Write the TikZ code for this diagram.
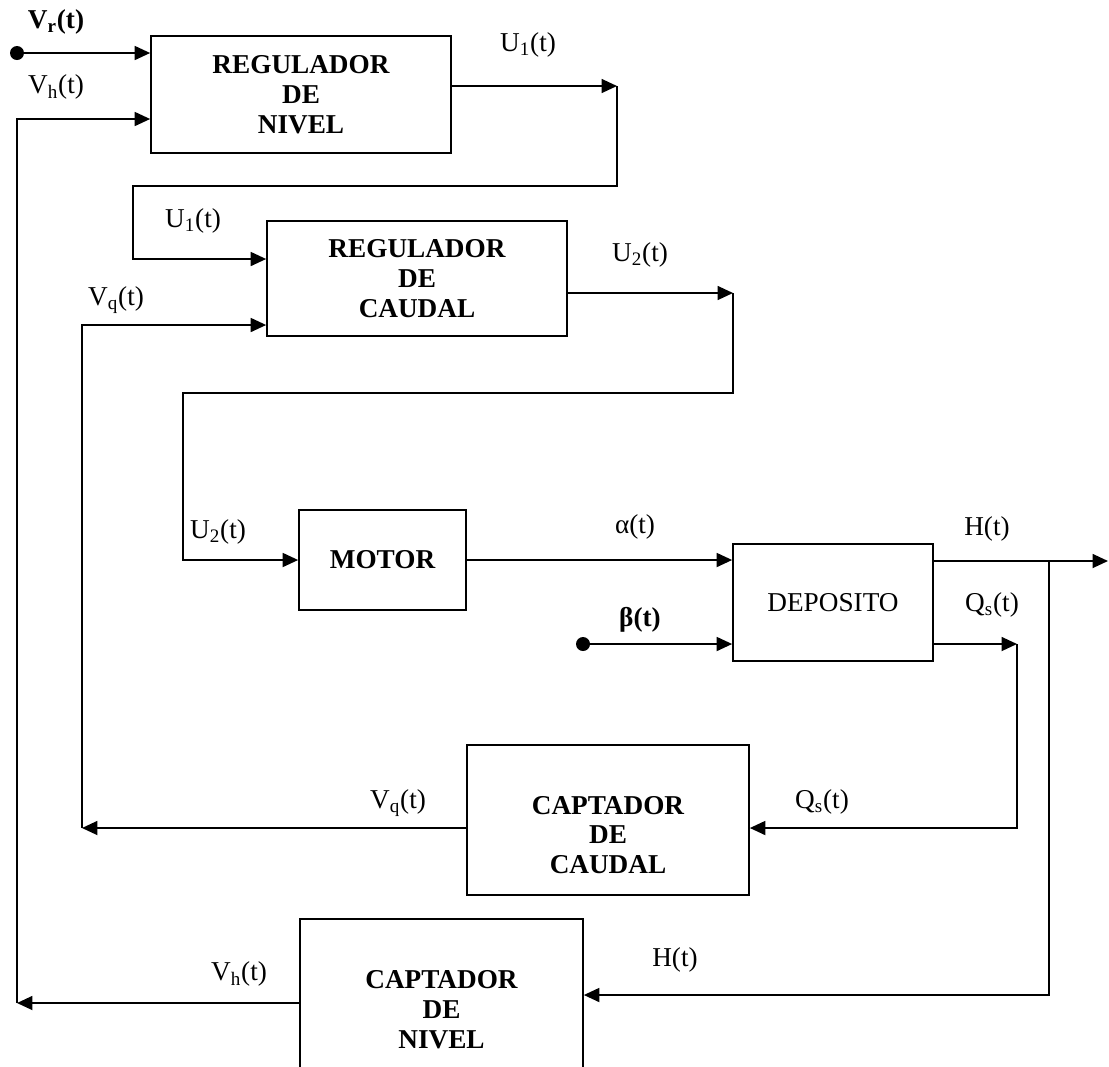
\documentclass[tikz,border=0pt]{standalone}
\usepackage{fontspec}
\setmainfont{Liberation Serif}
\usetikzlibrary{arrows.meta,positioning,calc}

\begin{document}
\begin{tikzpicture}[
  x=0.02cm, y=-0.02cm,
  font=\fontsize{15.5}{17}\selectfont,
  blk/.style={draw, line width=1pt, align=center, inner sep=0pt},
  bold/.style={font=\fontsize{15.5}{17}\selectfont\bfseries, align=center},
  arrow/.style={-{Triangle[length=3.1mm,width=2.8mm]}, line width=1pt},
  dot/.style={circle, fill, inner sep=0pt, minimum size=2.8mm},
  sig/.style={inner sep=0pt}
]
\useasboundingbox (0,0) rectangle (1109,1066);

% bloques
\node[blk, bold, minimum width=6cm, minimum height=2.34cm] (regn) at (301,94.5) {REGULADOR\\DE\\NIVEL};
\node[blk, bold, minimum width=6cm, minimum height=2.3cm] (regc) at (417,278.5) {REGULADOR\\DE\\CAUDAL};
\node[blk, bold, minimum width=3.34cm, minimum height=2cm] (motor) at (382.5,560) {MOTOR};
\node[blk, minimum width=4cm, minimum height=2.34cm] (depo) at (833,602.5) {DEPOSITO};
\node[blk, minimum width=5.64cm, minimum height=3cm] (capc) at (608,820) {};
\node[bold] (capct) at (608,835) {CAPTADOR\\DE\\CAUDAL};
\node[blk, bold, minimum width=5.66cm, minimum height=3.64cm] (capn) at (441.5,1010) {CAPTADOR\\DE\\NIVEL};

% etiquetas
\node[sig, bold] (lvr) at (56,22) {V\textsubscript{r}(t)};
\node[sig] (lvh) at (56,87) {V\textsubscript{h}(t)};
\node[sig] (lu1a) at (528,45) {U\textsubscript{1}(t)};
\node[sig] (lu1b) at (193,221) {U\textsubscript{1}(t)};
\node[sig] (lvqa) at (116,300) {V\textsubscript{q}(t)};
\node[sig] (lu2a) at (640,255) {U\textsubscript{2}(t)};
\node[sig] (lu2b) at (218,532) {U\textsubscript{2}(t)};
\node[sig] (lal) at (635,527) {α(t)};
\node[sig, bold] (lbe) at (640,620) {β(t)};
\node[sig] (lha) at (987,529) {H(t)};
\node[sig] (lqsa) at (992,605) {Q\textsubscript{s}(t)};
\node[sig] (lqsb) at (822,802) {Q\textsubscript{s}(t)};
\node[sig] (lvqb) at (398,803) {V\textsubscript{q}(t)};
\node[sig] (lhb) at (675,960) {H(t)};
\node[sig] (lvhb) at (239,974) {V\textsubscript{h}(t)};

% puntos de paso
\node[dot] (vrdot) at (17,53) {};
\node[dot] (bedot) at (583,644) {};
\coordinate (vhtop) at (17,119);
\coordinate (vhbot) at (17,1003);
\coordinate (u1a) at (617,86);
\coordinate (u1b) at (617,186);
\coordinate (u1c) at (133,186);
\coordinate (u1d) at (133,259);
\coordinate (vqtop) at (82,325);
\coordinate (vqbot) at (82,828);
\coordinate (u2a) at (733,293);
\coordinate (u2b) at (733,393);
\coordinate (u2c) at (183,393);
\coordinate (u2d) at (183,560);
\coordinate (hout) at (1108,561);
\coordinate (hbr) at (1049,561);
\coordinate (hbot) at (1049,995);
\coordinate (qsa) at (1017,644);
\coordinate (qsb) at (1017,828);

% conexiones
\draw[arrow] (vrdot) -- (vrdot -| regn.west);
\draw[arrow] (regn.east |- u1a) -- (u1a);
\draw[arrow] (u1a) -- (u1b) -- (u1c) -- (u1d) -- (u1d -| regc.west);
\draw[arrow] (regc.east |- u2a) -- (u2a);
\draw[arrow] (u2a) -- (u2b) -- (u2c) -- (u2d) -- (u2d -| motor.west);
\draw[arrow] (motor.east) -- (motor.east -| depo.west);
\draw[arrow] (bedot) -- (bedot -| depo.west);
\draw[arrow] (depo.east |- hout) -- (hout);
\draw[arrow] (hbr) -- (hbot) -- (hbot -| capn.east);
\draw[arrow] (depo.east |- qsa) -- (qsa);
\draw[arrow] (qsa) -- (qsb) -- (qsb -| capc.east);
\draw[arrow] (capc.west |- vqbot) -- (vqbot);
\draw[arrow] (vqbot) -- (vqtop) -- (vqtop -| regc.west);
\draw[arrow] (capn.west |- vhbot) -- (vhbot);
\draw[arrow] (vhbot) -- (vhtop) -- (vhtop -| regn.west);
\end{tikzpicture}
\end{document}
